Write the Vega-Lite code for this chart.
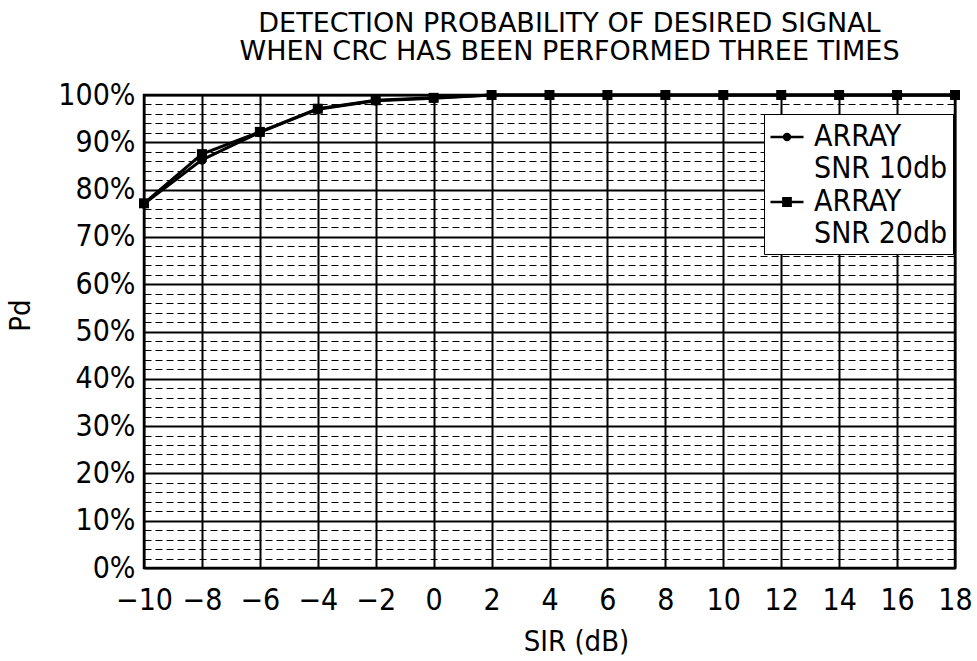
{
  "$schema": "https://vega.github.io/schema/vega-lite/v6.json",
  "width": 811,
  "height": 473,
  "autosize": {"type": "none"},
  "padding": {"left": 144, "top": 95, "right": 22, "bottom": 93},
  "background": "white",
  "config": {
    "font": "DejaVu Sans Condensed, sans-serif",
    "view": {"stroke": "black", "strokeWidth": 2.5}
  },
  "title": {
    "text": ["DETECTION PROBABILITY OF DESIRED SIGNAL", "WHEN CRC HAS BEEN PERFORMED THREE TIMES"],
    "font": "DejaVu Sans",
    "fontSize": 27,
    "fontWeight": "normal",
    "color": "black",
    "lineHeight": 28,
    "anchor": "middle",
    "dx": 20,
    "offset": 14
  },
  "data": {
    "values": [
      {"sir": -10, "pd": 77.0, "series": "ARRAY SNR 10db"},
      {"sir": -8, "pd": 86.3, "series": "ARRAY SNR 10db"},
      {"sir": -6, "pd": 92.1, "series": "ARRAY SNR 10db"},
      {"sir": -4, "pd": 97.0, "series": "ARRAY SNR 10db"},
      {"sir": -2, "pd": 98.8, "series": "ARRAY SNR 10db"},
      {"sir": 0, "pd": 99.3, "series": "ARRAY SNR 10db"},
      {"sir": 2, "pd": 100, "series": "ARRAY SNR 10db"},
      {"sir": 4, "pd": 100, "series": "ARRAY SNR 10db"},
      {"sir": 6, "pd": 100, "series": "ARRAY SNR 10db"},
      {"sir": 8, "pd": 100, "series": "ARRAY SNR 10db"},
      {"sir": 10, "pd": 100, "series": "ARRAY SNR 10db"},
      {"sir": 12, "pd": 100, "series": "ARRAY SNR 10db"},
      {"sir": 14, "pd": 100, "series": "ARRAY SNR 10db"},
      {"sir": 16, "pd": 100, "series": "ARRAY SNR 10db"},
      {"sir": 18, "pd": 100, "series": "ARRAY SNR 10db"},
      {"sir": -10, "pd": 77.1, "series": "ARRAY SNR 20db"},
      {"sir": -8, "pd": 87.5, "series": "ARRAY SNR 20db"},
      {"sir": -6, "pd": 92.2, "series": "ARRAY SNR 20db"},
      {"sir": -4, "pd": 97.1, "series": "ARRAY SNR 20db"},
      {"sir": -2, "pd": 98.9, "series": "ARRAY SNR 20db"},
      {"sir": 0, "pd": 99.4, "series": "ARRAY SNR 20db"},
      {"sir": 2, "pd": 100, "series": "ARRAY SNR 20db"},
      {"sir": 4, "pd": 100, "series": "ARRAY SNR 20db"},
      {"sir": 6, "pd": 100, "series": "ARRAY SNR 20db"},
      {"sir": 8, "pd": 100, "series": "ARRAY SNR 20db"},
      {"sir": 10, "pd": 100, "series": "ARRAY SNR 20db"},
      {"sir": 12, "pd": 100, "series": "ARRAY SNR 20db"},
      {"sir": 14, "pd": 100, "series": "ARRAY SNR 20db"},
      {"sir": 16, "pd": 100, "series": "ARRAY SNR 20db"},
      {"sir": 18, "pd": 100, "series": "ARRAY SNR 20db"}
    ]
  },
  "encoding": {
    "x": {
      "field": "sir",
      "type": "quantitative",
      "scale": {"domain": [-10, 18], "nice": false, "zero": false},
      "axis": {
        "values": [-10, -8, -6, -4, -2, 0, 2, 4, 6, 8, 10, 12, 14, 16, 18],
        "labelExpr": "replace(format(datum.value, 'd'), '-', '−')",
        "title": "SIR (dB)",
        "titleFontSize": 29,
        "titleFontWeight": "normal",
        "titleColor": "black",
        "titleX": 432,
        "titleY": 82,
        "titleAlign": "center",
        "titleBaseline": "alphabetic",
        "labelFontSize": 30,
        "labelColor": "black",
        "labelPadding": 17,
        "labelFlush": false,
        "ticks": false,
        "domain": false,
        "grid": true,
        "gridColor": "black",
        "gridWidth": 2,
        "gridOpacity": 1
      }
    },
    "y": {
      "field": "pd",
      "type": "quantitative",
      "scale": {"domain": [0, 100], "nice": false},
      "axis": {
        "values": [0, 2, 4, 6, 8, 10, 12, 14, 16, 18, 20, 22, 24, 26, 28, 30, 32, 34, 36, 38, 40, 42, 44, 46, 48, 50, 52, 54, 56, 58, 60, 62, 64, 66, 68, 70, 72, 74, 76, 78, 80, 82, 84, 86, 88, 90, 92, 94, 96, 98, 100],
        "labelExpr": "datum.value % 10 === 0 ? datum.value + '%' : ''",
        "title": "Pd",
        "titleFontSize": 29,
        "titleFontWeight": "normal",
        "titleColor": "black",
        "titleX": -115,
        "titleY": 220,
        "titleAngle": 270,
        "titleAlign": "center",
        "titleBaseline": "alphabetic",
        "labelFontSize": 30,
        "labelColor": "black",
        "labelPadding": 9,
        "labelFlush": false,
        "ticks": false,
        "domain": false,
        "grid": true,
        "gridColor": "black",
        "gridOpacity": 1,
        "gridWidth": {"condition": {"test": "datum.value % 10 === 0", "value": 1.8}, "value": 1.2},
        "gridDash": {"condition": {"test": "datum.value % 10 === 0", "value": []}, "value": [7, 4]}
      }
    }
  },
  "layer": [
    {
      "mark": {"type": "line", "strokeWidth": 3, "color": "black"},
      "encoding": {"detail": {"field": "series", "type": "nominal"}}
    },
    {
      "mark": {"type": "point", "filled": true, "size": 100, "color": "black", "opacity": 1},
      "encoding": {
        "shape": {
          "field": "series",
          "type": "nominal",
          "scale": {"domain": ["ARRAY SNR 10db", "ARRAY SNR 20db"], "range": ["circle", "square"]},
          "legend": null
        }
      }
    },
    {
      "mark": {"type": "point", "filled": false, "color": "black", "strokeWidth": 2.5, "opacity": 0},
      "encoding": {
        "shape": {
          "field": "series",
          "type": "nominal",
          "scale": {
            "domain": ["ARRAY SNR 10db", "ARRAY SNR 20db"],
            "range": [
              "M-1,0L1,0M-0.18,0A0.18,0.18 0 1,1 0.18,0A0.18,0.18 0 1,1 -0.18,0ZM-0.06,0A0.06,0.06 0 1,1 0.06,0A0.06,0.06 0 1,1 -0.06,0Z",
              "M-1,0L1,0M-0.22,-0.22L0.22,-0.22L0.22,0.22L-0.22,0.22ZM-0.08,-0.08L0.08,-0.08L0.08,0.08L-0.08,0.08Z"
            ]
          },
          "legend": {
            "title": null,
            "orient": "none",
            "legendX": 620,
            "legendY": 19,
            "fillColor": "white",
            "strokeColor": "black",
            "padding": 5,
            "labelFontSize": 30,
            "labelColor": "black",
            "labelLimit": 300,
            "labelOffset": 9,
            "labelLineHeight": 31,
            "labelExpr": "['ARRAY', slice(datum.label, 6)]",
            "labelBaseline": "middle",
            "rowPadding": -2,
            "symbolSize": 1089,
            "symbolOpacity": 1,
            "symbolStrokeColor": "black",
            "symbolStrokeWidth": 2.5,
            "encode": {
              "symbols": {
                "update": {
                  "stroke": {"value": "black"},
                  "strokeWidth": {"value": 2.5},
                  "opacity": {"value": 1},
                  "strokeOpacity": {"value": 1}
                }
              }
            }
          }
        }
      }
    }
  ],
  "resolve": {"scale": {"shape": "independent"}}
}
